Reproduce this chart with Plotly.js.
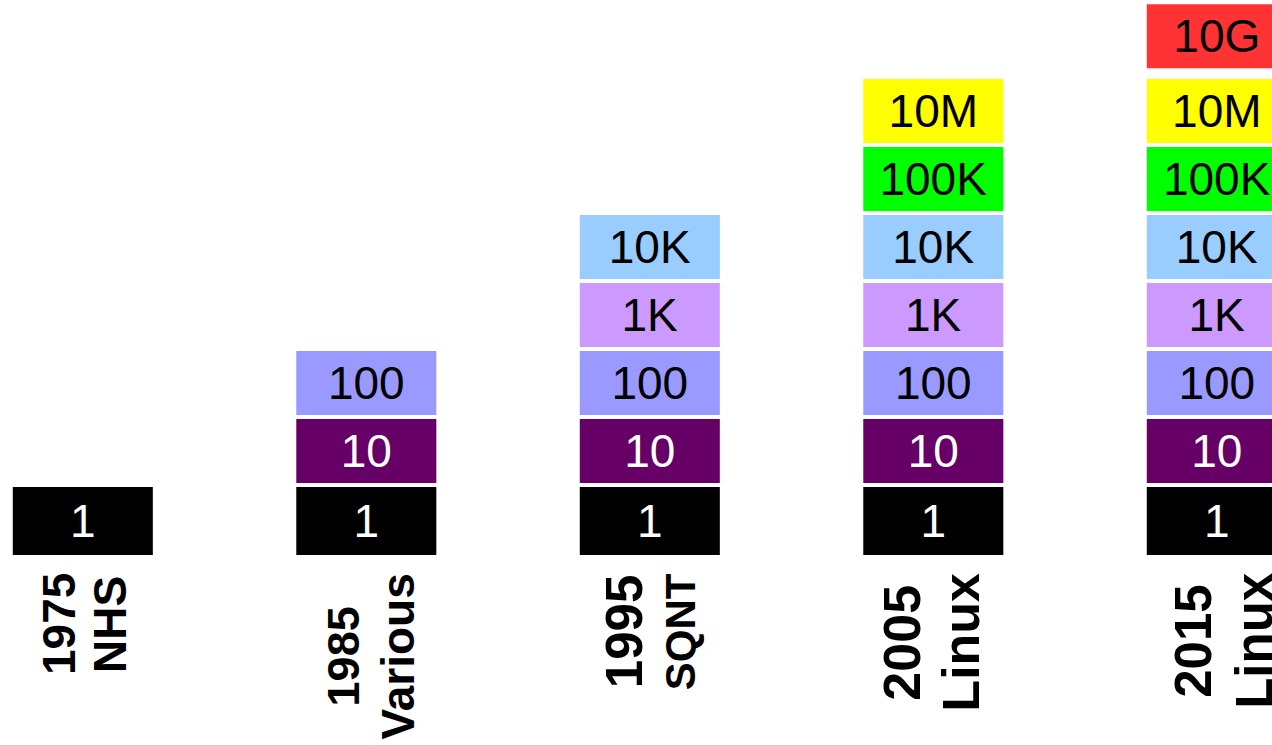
<!DOCTYPE html>
<html>
<head>
<meta charset="utf-8">
<script src="https://cdn.plot.ly/plotly-3.0.1.min.js"></script>
<style>
  html, body { margin: 0; padding: 0; background: #ffffff; }
  #chart { width: 1272px; height: 745px; }
</style>
</head>
<body>
<div id="chart"></div>
<script>
// ---------------- data ----------------
const years = [1975, 1985, 1995, 2005, 2015];
const systems = ['NHS', 'Various', 'SQNT', 'Linux', 'Linux'];
const scaleLabels = ['1', '10', '100', '1K', '10K', '100K', '10M', '10G'];
const topScale = ['1', '100', '10K', '10M', '10G']; // largest block reached each year

// ---------------- styles ----------------
const blockColors = ['#000000', '#660066', '#9999ff', '#cc99ff', '#99ccff', '#00ff00', '#ffff00', '#ff3333'];
const blockTextColors = ['#ffffff', '#ffffff', '#000000', '#000000', '#000000', '#000000', '#000000', '#000000'];
const FONT = '"Liberation Sans", Arial, sans-serif';
const yearFontSizes = [46, 45, 51, 52, 51];
const systemFontSizes = [46, 46, 42, 52, 51];
const yearShift = [-24, -23, -25, -31, -23];
const systemShift = [27, 32, 31, 28, 38];

const GAP = 4 / 68;          // white gap between stacked blocks (units)
const EXTRA_TOP_GAP = 0.1;   // extra space above 10M before 10G
const slot = i => i + (scaleLabels[i] === '10G' ? EXTRA_TOP_GAP : 0);

const traces = scaleLabels.map((lab, i) => {
  const xs = [], bases = [], heights = [], texts = [];
  years.forEach((yr, j) => {
    if (scaleLabels.indexOf(topScale[j]) >= i) {
      const b = slot(i) + (i > 0 ? GAP : 0);
      xs.push(yr);
      bases.push(b);
      heights.push(slot(i) + 1 - b);
      texts.push(lab);
    }
  });
  return {
    type: 'bar',
    x: xs,
    y: heights,
    base: bases,
    width: 4.94,
    text: texts,
    textposition: 'inside',
    insidetextanchor: 'middle',
    textangle: 0,
    constraintext: 'none',
    insidetextfont: { family: FONT, size: 46, color: blockTextColors[i] },
    marker: { color: blockColors[i], line: { width: 0 } },
    hoverinfo: 'skip',
    showlegend: false
  };
});

// measure label lengths to centre each pair of rotated lines
const cv = document.createElement('canvas').getContext('2d');
function textLen(t, size) {
  cv.font = 'bold ' + size + 'px "Liberation Sans"';
  return cv.measureText(t).width;
}

const PLOT_BOTTOM_PX = 555;
const LABEL_TOP_PX = 573;
const annotations = [];
years.forEach((yr, j) => {
  const yl = textLen(String(yr), yearFontSizes[j]);
  const sl = textLen(systems[j], systemFontSizes[j]);
  const centre = LABEL_TOP_PX + Math.max(yl, sl) / 2;
  const ys = -(centre - PLOT_BOTTOM_PX);
  annotations.push({
    x: yr, y: 0, xref: 'x', yref: 'y', showarrow: false,
    text: String(yr), textangle: -90,
    xanchor: 'center', yanchor: 'middle', xshift: yearShift[j], yshift: ys,
    font: { family: FONT, size: yearFontSizes[j], color: '#000000', weight: 'bold' }
  });
  annotations.push({
    x: yr, y: 0, xref: 'x', yref: 'y', showarrow: false,
    text: systems[j], textangle: -90,
    xanchor: 'center', yanchor: 'middle', xshift: systemShift[j], yshift: ys,
    font: { family: FONT, size: systemFontSizes[j], color: '#000000', weight: 'bold' }
  });
});

const layout = {
  width: 1272, height: 745,
  margin: { l: 0, r: 0, t: 0, b: 190, autoexpand: false },
  paper_bgcolor: '#ffffff', plot_bgcolor: '#ffffff',
  barmode: 'overlay',
  xaxis: { range: [1972.079, 2016.947], visible: false, fixedrange: true },
  yaxis: { range: [0, 555 / 68], visible: false, fixedrange: true },
  annotations: annotations,
  showlegend: false
};

Plotly.newPlot('chart', traces, layout, { displayModeBar: false, staticPlot: true });
</script>
</body>
</html>
